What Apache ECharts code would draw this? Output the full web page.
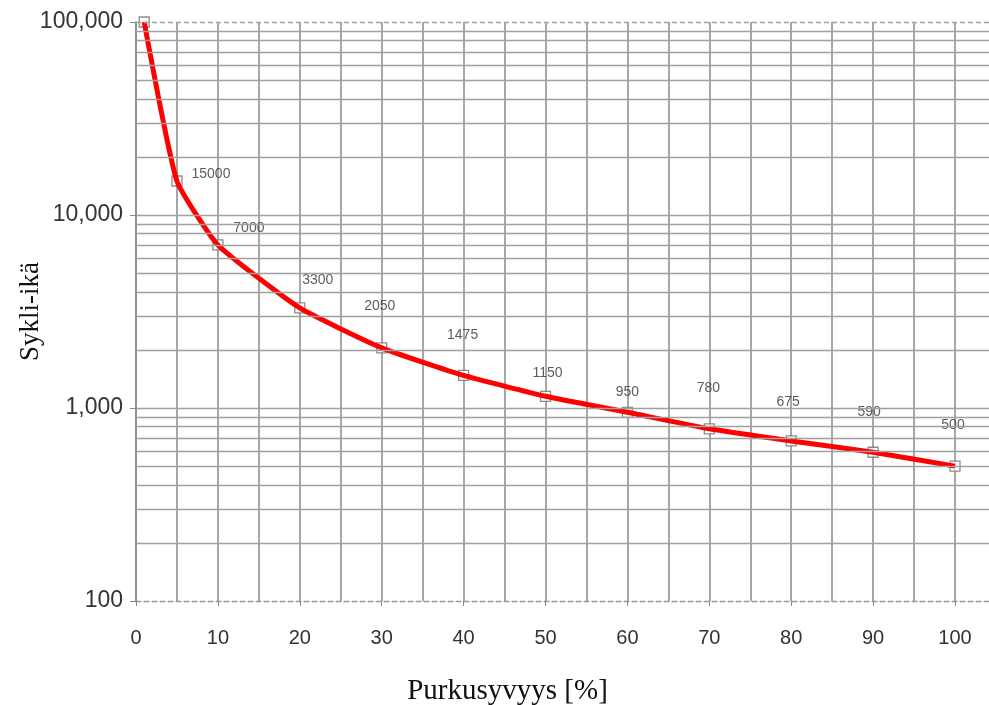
<!DOCTYPE html>
<html><head><meta charset="utf-8">
<script src="https://cdn.jsdelivr.net/npm/echarts@6/dist/echarts.min.js"></script>
<style>html,body{margin:0;padding:0;background:#fff}#c{width:989px;height:705px}</style>
</head><body><div id="c"></div>
<script>
// Data
const depth = [1, 5, 10, 20, 30, 40, 50, 60, 70, 80, 90, 100];
const cycles = [100000, 15000, 7000, 3300, 2050, 1475, 1150, 950, 780, 675, 590, 500];
const pointLabels = ['', '15000', '7000', '3300', '2050', '1475', '1150', '950', '780', '675', '590', '500'];
const xTickLabels = [0, 10, 20, 30, 40, 50, 60, 70, 80, 90, 100];
const yTickLabels = [100, 1000, 10000, 100000];

// label placement (style only)
const labelOffsets = [[0,0],[34,-7],[31,-17],[18,-28],[-2,-42],[-1,-40],[2,-23],[0,-20],[-1,-41],[-3,-39],[-4,-40],[-2,-41]];

// log grid lines (2..10 in each decade)
const minorLines = [];
[100, 1000, 10000].forEach(d => { for (let m = 2; m <= 10; m++) minorLines.push(d * m); });

const gridColor = '#a0a0a0';
const markData = minorLines.map(v => ({
  yAxis: v, lineStyle: {color: gridColor, width: 1.3, type: v === 100000 ? [5, 3] : 'solid'}
}));

const X_MAX = 104.15; // axis extends past 100 so grid lines run to the edge

const chart = echarts.init(document.getElementById('c'));
chart.setOption({
  animation: false,
  grid: {left: 136, right: 0, top: 22, bottom: 104, outerBoundsMode: 'none', containLabel: false},
  xAxis: [{
    type: 'value', min: 0, max: X_MAX, interval: 5,
    axisLine: {show: true, lineStyle: {color: '#999', width: 1.3, type: [5, 3]}},
    axisTick: {show: false},
    axisLabel: {show: false},
    splitLine: {show: true, showMaxLine: false, lineStyle: {color: '#8a8a8a', width: 1.5}}
  }, {
    type: 'value', min: 0, max: X_MAX, interval: 10, position: 'bottom',
    axisLine: {show: false},
    axisTick: {show: true, length: 5, lineStyle: {color: '#888'}},
    axisLabel: {margin: 27, color: '#333', fontSize: 20, fontFamily: 'Liberation Sans, Arial',
      showMaxLabel: false,
      formatter: v => xTickLabels.includes(v) ? String(v) : ''},
    splitLine: {show: false},
    name: 'Purkusyvyys [%]', nameLocation: 'middle', nameGap: 76, nameMoveOverlap: false,
    nameTextStyle: {fontFamily: 'Liberation Serif, Times New Roman', fontSize: 29, color: '#111', padding: [0, 110, 0, 0]}
  }],
  yAxis: {
    type: 'log', logBase: 10, min: 100, max: 100000,
    axisLine: {show: true, lineStyle: {color: '#888', width: 1.5}},
    axisTick: {show: true, length: 6, lineStyle: {color: '#888'}},
    axisLabel: {margin: 13, color: '#333', fontSize: 23, fontFamily: 'Liberation Sans, Arial',
      formatter: v => yTickLabels.includes(Math.round(v)) ? Math.round(v).toLocaleString('en-US') : ''},
    splitLine: {show: false},
    name: 'Sykli-ikä', nameLocation: 'middle', nameGap: 92, nameMoveOverlap: false,
    nameTextStyle: {fontFamily: 'Liberation Serif, Times New Roman', fontSize: 27, color: '#111'}
  },
  series: [{
    type: 'scatter', xAxisIndex: 0, z: 2,
    data: depth.map((x, i) => [x, cycles[i]]),
    symbol: 'rect', symbolSize: 10,
    itemStyle: {color: '#fff', borderColor: '#6f6f6f', borderWidth: 1.3},
    label: {show: true, position: 'inside', color: '#333', fontSize: 14, fontFamily: 'Liberation Sans, Arial',
      formatter: p => pointLabels[p.dataIndex]},
    labelLayout: p => ({dx: labelOffsets[p.dataIndex][0], dy: labelOffsets[p.dataIndex][1]}),
    markLine: {silent: true, symbol: 'none', label: {show: false}, animation: false,
      lineStyle: {color: gridColor, width: 1.3, type: 'solid'}, data: markData}
  }, {
    type: 'line', xAxisIndex: 0, z: 3,
    data: depth.map((x, i) => [x, cycles[i]]),
    smooth: 0.15, showSymbol: false,
    lineStyle: {color: '#ff0000', width: 5}
  }]
});
</script></body></html>
